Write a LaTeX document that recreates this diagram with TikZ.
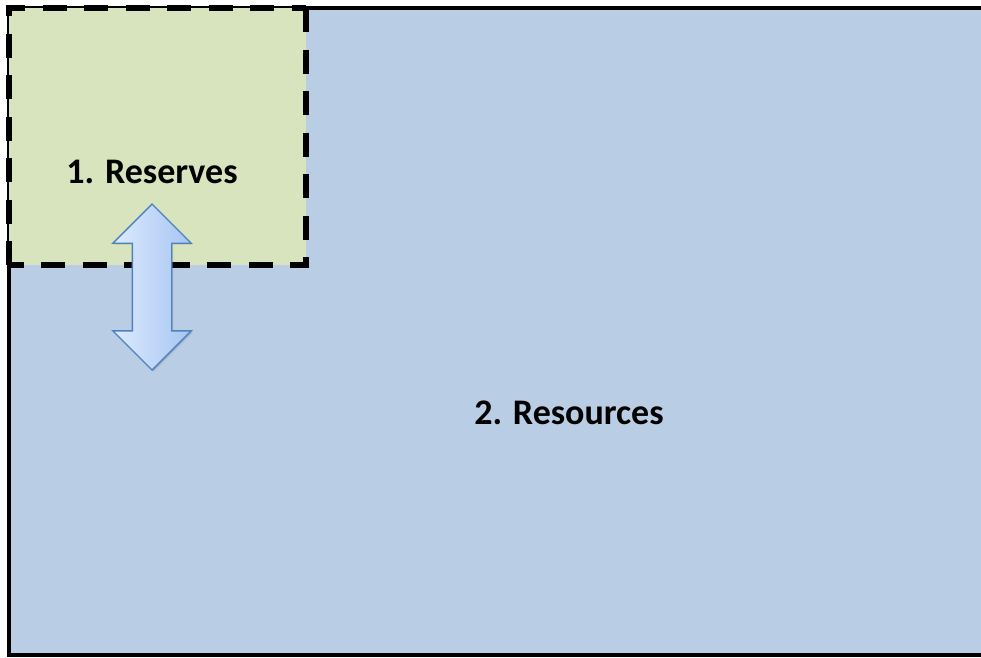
\documentclass[tikz,border=0pt]{standalone}
\usepackage{fontspec}
\setmainfont{Carlito}
\usetikzlibrary{shapes.arrows,shadows}
\definecolor{reservegreen}{HTML}{D7E4BD}
\definecolor{resourceblue}{HTML}{B9CDE5}
\definecolor{arrowline}{HTML}{4F81BD}
\definecolor{arrowlight}{HTML}{DDEAFE}
\definecolor{arrowdark}{HTML}{A6C5F3}
\begin{document}
\begin{tikzpicture}[x=1pt,y=-1pt, every node/.style={font=\bfseries\fontsize{36}{43}\selectfont}]
            \useasboundingbox (0,0) rectangle (981,657);
            \fill[resourceblue] (9,8) rectangle (990,655);
            \draw[line width=3.5pt] (9,8) rectangle (990,655);
            \fill[reservegreen] (9,8) rectangle (306,265);
            \draw[line width=5.5pt, dash pattern=on 24pt off 17.5pt] (306,8) -- (306,265) -- (9,265);
            \draw[line width=5.5pt, dash pattern=on 24pt off 17.5pt] (9,265) -- (9,8) -- (306,8);
            \node (Reserves) at (152,172) {1. Reserves};
            \node (Resources) at (569,413) {2. Resources};
            \node [double arrow, shape border rotate=90, draw=arrowline, line width=1.4pt,
                   left color=arrowlight, right color=arrowdark, inner sep=19pt,
                   minimum height=166pt, double arrow head extend=19.5pt,
                   drop shadow={opacity=0.3, shadow xshift=1.5pt, shadow yshift=-1.5pt}] (Exchange) at (152,287) {};
        \end{tikzpicture}
\end{document}
